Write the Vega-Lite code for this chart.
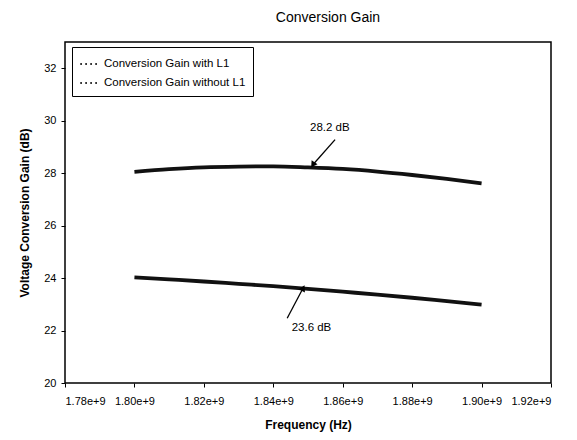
{
  "$schema": "https://vega.github.io/schema/vega-lite/v6.json",
  "autosize": "none",
  "width": 486,
  "height": 341,
  "padding": {"left": 65, "top": 42, "right": 26, "bottom": 57},
  "background": "white",
  "config": {
    "font": "Liberation Sans",
    "view": {"stroke": "black", "strokeWidth": 1.5},
    "axis": {"grid": false, "domain": false, "tickColor": "black", "tickSize": 4, "labelColor": "black", "labelFontSize": 11, "titleColor": "black", "titleFontSize": 12, "titleFontWeight": "bold"}
  },
  "title": {"text": "Conversion Gain", "fontSize": 14, "fontWeight": "normal", "color": "black", "anchor": "middle", "dx": 20, "offset": 17},
  "datasets": {
    "curves": [
      {"freq": 1.80e9, "gain": 28.05, "series": "Conversion Gain with L1"},
      {"freq": 1.81e9, "gain": 28.15, "series": "Conversion Gain with L1"},
      {"freq": 1.82e9, "gain": 28.22, "series": "Conversion Gain with L1"},
      {"freq": 1.83e9, "gain": 28.25, "series": "Conversion Gain with L1"},
      {"freq": 1.84e9, "gain": 28.26, "series": "Conversion Gain with L1"},
      {"freq": 1.85e9, "gain": 28.22, "series": "Conversion Gain with L1"},
      {"freq": 1.86e9, "gain": 28.16, "series": "Conversion Gain with L1"},
      {"freq": 1.87e9, "gain": 28.06, "series": "Conversion Gain with L1"},
      {"freq": 1.88e9, "gain": 27.93, "series": "Conversion Gain with L1"},
      {"freq": 1.89e9, "gain": 27.78, "series": "Conversion Gain with L1"},
      {"freq": 1.90e9, "gain": 27.61, "series": "Conversion Gain with L1"},
      {"freq": 1.80e9, "gain": 24.03, "series": "Conversion Gain without L1"},
      {"freq": 1.81e9, "gain": 23.95, "series": "Conversion Gain without L1"},
      {"freq": 1.82e9, "gain": 23.87, "series": "Conversion Gain without L1"},
      {"freq": 1.83e9, "gain": 23.78, "series": "Conversion Gain without L1"},
      {"freq": 1.84e9, "gain": 23.69, "series": "Conversion Gain without L1"},
      {"freq": 1.85e9, "gain": 23.59, "series": "Conversion Gain without L1"},
      {"freq": 1.86e9, "gain": 23.48, "series": "Conversion Gain without L1"},
      {"freq": 1.87e9, "gain": 23.37, "series": "Conversion Gain without L1"},
      {"freq": 1.88e9, "gain": 23.25, "series": "Conversion Gain without L1"},
      {"freq": 1.89e9, "gain": 23.12, "series": "Conversion Gain without L1"},
      {"freq": 1.90e9, "gain": 22.99, "series": "Conversion Gain without L1"}
    ],
    "notes": [
      {"label": "28.2 dB", "tx": 1.8563e9, "ty": 29.72, "xa": 1.8578e9, "ya": 29.28, "xb": 1.8514e9, "yb": 28.32, "angle": 214},
      {"label": "23.6 dB", "tx": 1.851e9, "ty": 22.1, "xa": 1.8440e9, "ya": 22.47, "xb": 1.8486e9, "yb": 23.62, "angle": 27}
    ]
  },
  "layer": [
    {
      "data": {"name": "curves"},
      "mark": {"type": "line", "strokeWidth": 3.8, "interpolate": "monotone"},
      "encoding": {
        "x": {"field": "freq", "type": "quantitative", "scale": {"domain": [1.78e9, 1.92e9], "nice": false}, "axis": {"values": [1.78e9, 1.80e9, 1.82e9, 1.84e9, 1.86e9, 1.88e9, 1.90e9, 1.92e9], "format": ".2e", "title": "Frequency (Hz)", "titlePadding": 13, "labelPadding": 8}},
        "y": {"field": "gain", "type": "quantitative", "scale": {"domain": [20, 33], "nice": false, "zero": false}, "axis": {"values": [20, 22, 24, 26, 28, 30, 32], "title": "Voltage Conversion Gain (dB)", "titlePadding": 12, "labelPadding": 5}},
        "color": {"field": "series", "type": "nominal", "scale": {"range": ["#111111", "#111111"]}, "legend": {"title": null, "orient": "none", "legendX": 7, "legendY": 5, "strokeColor": "black", "padding": 7, "labelFontSize": 11.5, "labelColor": "black", "symbolType": "stroke", "symbolDash": [1.5, 3.5], "symbolStrokeWidth": 1.8, "symbolSize": 300, "rowPadding": 3, "labelOffset": 5, "fillColor": "white"}}
      }
    },
    {
      "data": {"name": "notes"},
      "mark": {"type": "rule", "color": "black", "strokeWidth": 1.3},
      "encoding": {
        "x": {"field": "xa", "type": "quantitative"},
        "y": {"field": "ya", "type": "quantitative"},
        "x2": {"field": "xb"},
        "y2": {"field": "yb"}
      }
    },
    {
      "data": {"name": "notes"},
      "mark": {"type": "point", "shape": "triangle-up", "filled": true, "color": "black", "size": 50, "opacity": 1},
      "encoding": {
        "x": {"field": "xb", "type": "quantitative"},
        "y": {"field": "yb", "type": "quantitative"},
        "angle": {"field": "angle", "type": "quantitative", "scale": null}
      }
    },
    {
      "data": {"name": "notes"},
      "mark": {"type": "text", "fontSize": 11.5, "color": "black"},
      "encoding": {
        "x": {"field": "tx", "type": "quantitative"},
        "y": {"field": "ty", "type": "quantitative"},
        "text": {"field": "label"}
      }
    }
  ]
}
